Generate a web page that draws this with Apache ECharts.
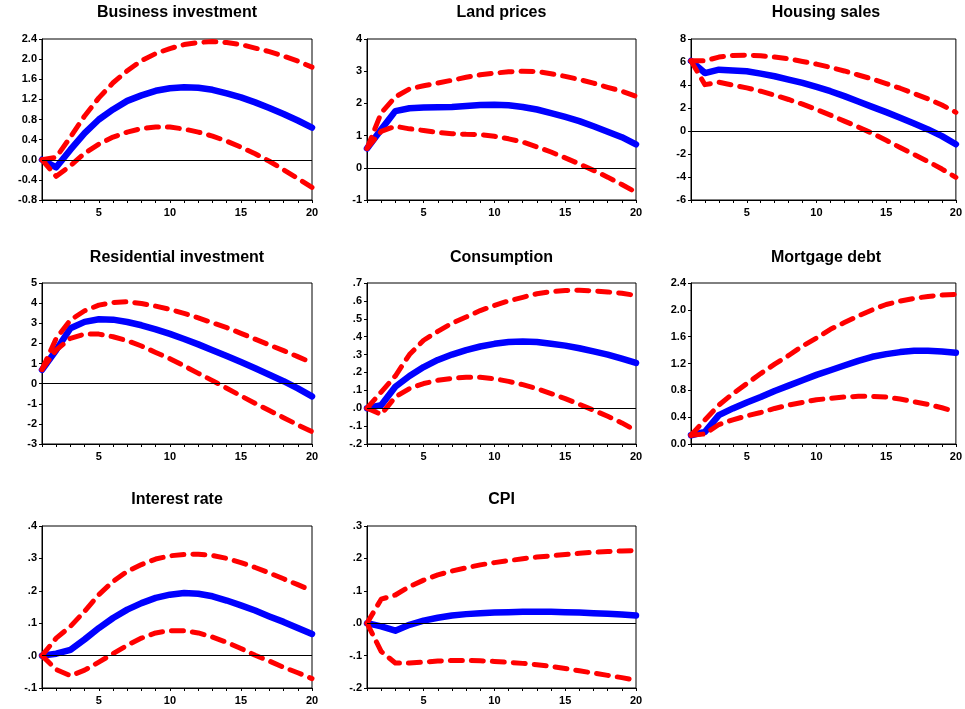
<!DOCTYPE html>
<html><head><meta charset="utf-8">
<script src="https://cdn.jsdelivr.net/npm/echarts@6/dist/echarts.min.js"></script>
<style>html,body{margin:0;padding:0;background:#fff}#c{width:965px;height:709px}</style>
</head><body><div id="c"></div>
<script>
const periods = [1,2,3,4,5,6,7,8,9,10,11,12,13,14,15,16,17,18,19,20];
const titles = ["Business investment","Land prices","Housing sales","Residential investment","Consumption","Mortgage debt","Interest rate","CPI"];

// Business investment
const bizMid = [0,-0.15,0.2,0.53,0.8,1.0,1.17,1.28,1.37,1.42,1.44,1.43,1.39,1.32,1.24,1.14,1.03,0.91,0.78,0.64];
const bizUp  = [0,0.05,0.45,0.87,1.23,1.53,1.77,1.97,2.11,2.21,2.29,2.33,2.35,2.33,2.29,2.22,2.15,2.06,1.96,1.84];
const bizLo  = [0,-0.33,-0.12,0.13,0.31,0.45,0.55,0.62,0.65,0.65,0.61,0.55,0.47,0.37,0.25,0.12,-0.03,-0.2,-0.37,-0.55];
// Land prices
const landMid = [0.6,1.19,1.76,1.85,1.87,1.88,1.89,1.92,1.95,1.96,1.94,1.89,1.81,1.7,1.58,1.45,1.29,1.12,0.95,0.73];
const landUp  = [0.6,1.7,2.2,2.45,2.55,2.63,2.72,2.81,2.89,2.94,2.98,3.0,2.99,2.92,2.84,2.74,2.63,2.5,2.38,2.22];
const landLo  = [0.6,1.13,1.29,1.21,1.16,1.1,1.06,1.04,1.03,0.98,0.9,0.8,0.65,0.49,0.31,0.12,-0.08,-0.29,-0.52,-0.76];
// Housing sales
const houseMid = [6.1,5.04,5.33,5.27,5.19,4.99,4.76,4.47,4.18,3.83,3.46,3.03,2.56,2.1,1.64,1.15,0.66,0.14,-0.45,-1.15];
const houseUp  = [6.1,6.1,6.43,6.57,6.6,6.54,6.43,6.28,6.05,5.82,5.53,5.22,4.87,4.52,4.12,3.72,3.26,2.8,2.26,1.62];
const houseLo  = [6.1,4.03,4.24,3.98,3.75,3.46,3.11,2.74,2.33,1.87,1.38,0.86,0.35,-0.2,-0.81,-1.44,-2.05,-2.65,-3.31,-4.03];
// Residential investment
const resMid = [0.68,1.67,2.75,3.07,3.2,3.18,3.06,2.9,2.7,2.47,2.22,1.95,1.66,1.37,1.07,0.76,0.44,0.12,-0.24,-0.63];
const resUp  = [0.7,2.25,3.16,3.62,3.9,4.03,4.07,3.98,3.85,3.69,3.49,3.27,3.02,2.78,2.5,2.21,1.92,1.64,1.34,1.04];
const resLo  = [0.7,1.67,2.25,2.46,2.46,2.33,2.13,1.87,1.55,1.24,0.88,0.51,0.15,-0.23,-0.61,-0.98,-1.34,-1.69,-2.05,-2.39];
// Consumption
const consMid = [0,0.017,0.12,0.18,0.23,0.27,0.3,0.325,0.345,0.36,0.37,0.373,0.37,0.36,0.35,0.335,0.318,0.3,0.277,0.253];
const consUp  = [0,0.09,0.18,0.3,0.38,0.43,0.475,0.51,0.546,0.574,0.6,0.62,0.64,0.652,0.658,0.66,0.656,0.65,0.643,0.63];
const consLo  = [0,-0.035,0.063,0.11,0.138,0.156,0.167,0.173,0.173,0.165,0.15,0.132,0.11,0.082,0.054,0.022,-0.011,-0.045,-0.082,-0.126];
// Mortgage debt
const mortMid = [0.13,0.18,0.43,0.53,0.62,0.7,0.79,0.87,0.95,1.03,1.1,1.17,1.24,1.3,1.34,1.37,1.39,1.39,1.38,1.36];
const mortUp  = [0.13,0.36,0.58,0.75,0.9,1.05,1.19,1.32,1.46,1.58,1.71,1.81,1.91,2.0,2.08,2.13,2.17,2.2,2.22,2.23];
const mortLo  = [0.13,0.15,0.29,0.36,0.42,0.47,0.53,0.58,0.62,0.66,0.68,0.7,0.71,0.71,0.7,0.67,0.63,0.59,0.54,0.48];
// Interest rate
const rateMid = [0,0.006,0.018,0.05,0.085,0.116,0.142,0.162,0.178,0.188,0.193,0.191,0.183,0.17,0.155,0.139,0.121,0.104,0.085,0.067];
const rateUp  = [0,0.054,0.09,0.137,0.188,0.229,0.26,0.281,0.298,0.308,0.312,0.313,0.309,0.3,0.287,0.272,0.255,0.237,0.219,0.2];
const rateLo  = [0,-0.043,-0.062,-0.045,-0.02,0.006,0.032,0.054,0.07,0.077,0.077,0.07,0.057,0.041,0.022,0.001,-0.017,-0.036,-0.053,-0.071];
// CPI
const cpiMid = [0,-0.01,-0.023,-0.005,0.008,0.017,0.024,0.028,0.031,0.033,0.034,0.035,0.035,0.035,0.034,0.033,0.031,0.029,0.027,0.024];
const cpiUp  = [0,0.074,0.087,0.113,0.133,0.149,0.161,0.171,0.18,0.187,0.193,0.199,0.204,0.208,0.212,0.216,0.219,0.221,0.223,0.224];
const cpiLo  = [0,-0.087,-0.123,-0.123,-0.12,-0.117,-0.115,-0.115,-0.116,-0.118,-0.121,-0.124,-0.128,-0.133,-0.14,-0.147,-0.154,-0.161,-0.168,-0.176];

// y-axis scales [min, max, interval, label style]
const yScales = [
  [-0.8, 2.4, 0.4, 'f1'],
  [-1, 4, 1, 'int'],
  [-6, 8, 2, 'int'],
  [-3, 5, 1, 'int'],
  [-0.2, 0.7, 0.1, 'dot'],
  [0, 2.4, 0.4, 'f1'],
  [-0.1, 0.4, 0.1, 'dot'],
  [-0.2, 0.3, 0.1, 'dot']
];
const panels = [
  [bizMid, bizUp, bizLo], [landMid, landUp, landLo], [houseMid, houseUp, houseLo],
  [resMid, resUp, resLo], [consMid, consUp, consLo], [mortMid, mortUp, mortLo],
  [rateMid, rateUp, rateLo], [cpiMid, cpiUp, cpiLo]
];

const grids = [
  {left:42, top:39, width:270, height:161},
  {left:367, top:39, width:269, height:161},
  {left:691, top:39, width:270, height:161},
  {left:42, top:283, width:270, height:161},
  {left:367, top:283, width:269, height:161},
  {left:691, top:283, width:270, height:161},
  {left:42, top:526, width:270, height:162},
  {left:367, top:526, width:269, height:162}
];
const titleTops = [5,5,5,250,250,250,492,492];

function fmt(style){
  return function(v){
    const r = Math.round(v*1000)/1000;
    if (style==='int') return String(Math.round(r));
    const s = r.toFixed(1);
    if (style==='dot') return s.replace('0.', '.');
    return s;
  };
}
const FONT = 'Liberation Sans, Arial, sans-serif';
const option = {
  animation:false,
  backgroundColor:'#fff',
  grid: grids.map(g => Object.assign({show:true, borderColor:'#000', borderWidth:1, backgroundColor:'#fff'}, g)),
  xAxis: grids.map((g,i) => ({
    type:'value', gridIndex:i, min:1, max:20, interval:1,
    axisLine:{onZero:false, lineStyle:{color:'#000', width:1}},
    axisTick:{show:true, length:3, inside:false, lineStyle:{color:'#000'}},
    splitLine:{show:false},
    axisLabel:{color:'#000', fontFamily:FONT, fontWeight:'bold', fontSize:11, margin:7,
      showMinLabel:true, showMaxLabel:true,
      formatter: v => (Math.round(v)%5===0 ? String(Math.round(v)) : '')}
  })),
  yAxis: yScales.map((s,i) => ({
    type:'value', gridIndex:i, min:s[0], max:s[1], interval:s[2],
    axisLine:{show:true, onZero:false, lineStyle:{color:'#000', width:1}},
    axisTick:{show:true, length:3, lineStyle:{color:'#000'}},
    splitLine:{show:false},
    axisLabel:{color:'#000', fontFamily:FONT, fontWeight:'bold', fontSize:11, margin:5, formatter: fmt(s[3])}
  })),
  graphic: grids.map((g,i) => ({
    type:'text', x: g.left + g.width/2, y: titleTops[i],
    style:{text: titles[i], textAlign:'center', textVerticalAlign:'top', fill:'#000',
      font: 'bold 16px Liberation Sans, Arial, sans-serif'}
  })),
  series: []
};
panels.forEach((p,i) => {
  const toPts = arr => periods.map((x,k) => [x, arr[k]]);
  option.series.push({
    type:'line', xAxisIndex:i, yAxisIndex:i, data: toPts(p[0]), showSymbol:false, symbol:'none',
    lineStyle:{color:'#0000FF', width:6.5, cap:'round', join:'round'}, z:2, silent:true,
    markLine:{silent:true, symbol:'none', label:{show:false}, animation:false,
      lineStyle:{color:'#000', width:1, type:'solid'}, data:[{yAxis:0}]}
  });
  [p[1], p[2]].forEach(arr => option.series.push({
    type:'line', xAxisIndex:i, yAxisIndex:i, data: toPts(arr), showSymbol:false, symbol:'none',
    lineStyle:{color:'#FF0000', width:5, type:[12,9], cap:'round', join:'round'}, z:3, silent:true
  }));
});
const chart = echarts.init(document.getElementById('c'), null, {renderer:'canvas'});
chart.setOption(option);
</script></body></html>
